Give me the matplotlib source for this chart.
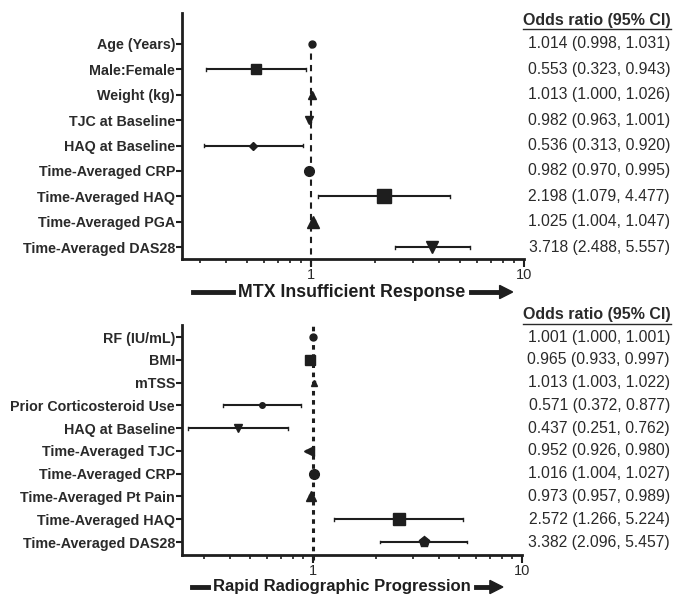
import matplotlib
matplotlib.use('Agg')
import matplotlib.pyplot as plt
from matplotlib.lines import Line2D

plt.rcParams['font.family'] = ['Liberation Sans', 'DejaVu Sans']

# MTX insufficient response panel
mtx_labels = ['Age (Years)', 'Male:Female', 'Weight (kg)', 'TJC at Baseline', 'HAQ at Baseline',
              'Time-Averaged CRP', 'Time-Averaged HAQ', 'Time-Averaged PGA', 'Time-Averaged DAS28']
mtx_or = [1.014, 0.553, 1.013, 0.982, 0.536, 0.982, 2.198, 1.025, 3.718]
mtx_lo = [0.998, 0.323, 1.000, 0.963, 0.313, 0.970, 1.079, 1.004, 2.488]
mtx_hi = [1.031, 0.943, 1.026, 1.001, 0.920, 0.995, 4.477, 1.047, 5.557]

# rapid radiographic progression panel
rrp_labels = ['RF (IU/mL)', 'BMI', 'mTSS', 'Prior Corticosteroid Use', 'HAQ at Baseline',
              'Time-Averaged TJC', 'Time-Averaged CRP', 'Time-Averaged Pt Pain',
              'Time-Averaged HAQ', 'Time-Averaged DAS28']
rrp_or = [1.001, 0.965, 1.013, 0.571, 0.437, 0.952, 1.016, 0.973, 2.572, 3.382]
rrp_lo = [1.000, 0.933, 1.003, 0.372, 0.251, 0.926, 1.004, 0.957, 1.266, 2.096]
rrp_hi = [1.001, 0.997, 1.022, 0.877, 0.762, 0.980, 1.027, 0.989, 5.224, 5.457]

mtx_markers = [('o', 5), ('s', 7), ('^', 6), ('v', 6), ('D', 4), ('o', 7), ('s', 10), ('^', 8), ('v', 8)]
rrp_markers = [('o', 5), ('s', 7), ('^', 5), ('o', 4), ('v', 6), ('<', 7), ('o', 7), ('^', 7), ('s', 9), ('p', 8)]

dark = '#1e1e1e'
txt = '#2a2a2a'
W, H = 675, 599

fig = plt.figure(figsize=(6.75, 5.99), dpi=100)


def fx(px):
    return px / W


def fy(py):
    return 1 - py / H


def forest(ax, labels, ors, los, his, markers, xlim, ylim, dash_lo, dash_hi, dash_style, dash_lw):
    for i in range(len(labels)):
        ax.plot([los[i], his[i]], [i, i], color=dark, lw=1.5, solid_capstyle='butt')
        for v in (los[i], his[i]):
            ax.plot([v, v], [i - 0.06, i + 0.06], color=dark, lw=1)
        m, s = markers[i]
        ax.plot(ors[i], i, marker=m, ms=s, color=dark, mec=dark, ls='none', zorder=3)
    ax.set_xscale('log')
    ax.set_xlim(*xlim)
    ax.set_ylim(*ylim)
    ax.set_yticks(range(len(labels)))
    ax.set_yticklabels(labels, fontsize=10.25, fontweight='bold', color=txt)
    ax.set_xticks([1, 10])
    ax.set_xticklabels(['1', '10'], fontsize=10.5, color=txt)
    ax.tick_params(axis='y', length=4, width=1.5, pad=1, color=dark)
    ax.tick_params(axis='x', which='major', length=6, width=1.5, color=dark, pad=0.5)
    ax.tick_params(axis='x', which='minor', length=3, width=1.2, color=dark)
    for sp in ('top', 'right'):
        ax.spines[sp].set_visible(False)
    for sp in ('left', 'bottom'):
        ax.spines[sp].set_linewidth(2)
        ax.spines[sp].set_color(dark)
    ax.axvline(1, ymin=dash_lo, ymax=dash_hi, color=dark, lw=dash_lw, ls=dash_style,
               clip_on=False, zorder=1)


ax1 = fig.add_axes([fx(182), fy(259), fx(524 - 182), (259 - 13) / H])
forest(ax1, mtx_labels, mtx_or, mtx_lo, mtx_hi, mtx_markers, (0.248, 10), (8.47, -1.22),
       -0.03, 0.90, (0, (3, 2.5)), 1.5)

ax2 = fig.add_axes([fx(182), fy(555), fx(522 - 182), (555 - 325) / H])
forest(ax2, rrp_labels, rrp_or, rrp_lo, rrp_hi, rrp_markers, (0.236, 10), (9.57, -0.53),
       -0.02, 1.0, (0, (1.5, 1.5)), 2.2)

fig.canvas.draw()
renderer = fig.canvas.get_renderer()
fw, fh = 6.75 * fig.dpi, 5.99 * fig.dpi

# odds ratio columns
for ax, ors, los, his, hy, x1 in ((ax1, mtx_or, mtx_lo, mtx_hi, 20, 524),
                                  (ax2, rrp_or, rrp_lo, rrp_hi, 315, 522)):
    for i in range(len(ors)):
        ax.text((670 - 182) / (x1 - 182), i, f'{ors[i]:.3f} ({los[i]:.3f}, {his[i]:.3f})',
                transform=ax.get_yaxis_transform(), ha='right', va='center', fontsize=11.3, color=txt)
    t = fig.text(fx(671), fy(hy), 'Odds ratio (95% CI)', ha='right', va='center',
                 fontsize=11.5, fontweight='bold', color=txt)
    bb = t.get_window_extent(renderer)
    fig.add_artist(Line2D([bb.x0 / fw, bb.x1 / fw], [bb.y0 / fh - 0.002] * 2, color=txt, lw=1))

# axis captions with arrows
for caption, cx, cy, fs, left_len, right_len in (('MTX Insufficient Response', 352, 292, 12.8, 40, 42),
                                                  ('Rapid Radiographic Progression', 342, 587, 12.0, 16, 27)):
    t = fig.text(fx(cx), fy(cy), caption, ha='center', va='center', fontsize=fs,
                 fontweight='bold', color=dark)
    bb = t.get_window_extent(renderer)
    ymid = (bb.y0 + bb.y1) / 2 / fh
    x0 = bb.x0 / fw
    x1 = bb.x1 / fw
    fig.add_artist(Line2D([x0 - fx(5 + left_len), x0 - fx(5)], [ymid, ymid], color=dark, lw=3.5))
    fig.add_artist(Line2D([x1 + fx(5), x1 + fx(5 + right_len - 10)], [ymid, ymid], color=dark, lw=3.5))
    fig.patches.append(plt.Polygon([[x1 + fx(5 + right_len - 13), ymid + 0.011],
                                    [x1 + fx(5 + right_len), ymid],
                                    [x1 + fx(5 + right_len - 13), ymid - 0.011]],
                                   closed=True, color=dark, transform=fig.transFigure, figure=fig))

fig.savefig('out.png', dpi=100, facecolor='white')
